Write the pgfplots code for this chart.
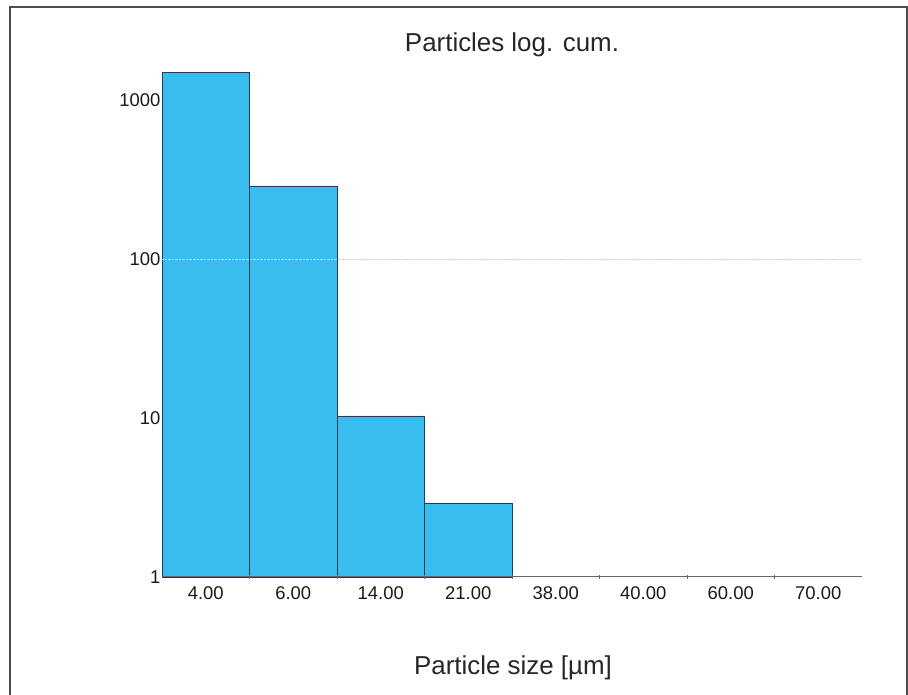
\documentclass[border=0pt]{standalone}
\usepackage{pgfplots}
\pgfplotsset{compat=1.18}
\usepackage{fontspec}
\setmainfont{Liberation Sans}
\definecolor{barblue}{RGB}{56,189,238}
\definecolor{baredge}{RGB}{40,60,85}
\begin{document}
\begin{tikzpicture}[x=1bp,y=1bp]
\useasboundingbox (0,0) rectangle (908,695);
\draw[line width=1.2bp, black!70] (10,0) -- (10,688) -- (907,688) -- (907,0);
\begin{axis}[
  at={(162bp,118bp)}, anchor=south west,
  scale only axis, width=700bp, height=524.9bp,
  ymode=log, ymin=1, ymax=2000,
  xmin=-0.5, xmax=7.5,
  ybar, bar width=1,
  axis on top,
  axis x line*=bottom, axis y line*=left,
  x axis line style={black!60, line width=1bp},
  y axis line style={draw=none},
  xtick={0,...,7},
  xticklabels={4.00,6.00,14.00,21.00,38.00,40.00,60.00,70.00},
  xtick style={draw=none},
  extra x ticks={0.5,1.5,2.5,3.5,4.5,5.5,6.5},
  extra x tick labels={},
  extra x tick style={xtick style={draw=black!60, line width=0.8bp}, major tick length=4bp, tick align=center},
  ytick={1,10,100,1000},
  yticklabels={1,10,100,1000},
  ytick style={draw=none},
  extra y ticks={100},
  extra y tick labels={},
  extra y tick style={grid=major, major grid style={densely dotted, black!18, line width=0.8bp}},
  tick label style={font=\fontsize{18.5}{20}\selectfont, text=black!90},
  /pgf/number format/assume math mode=true,
  xticklabel style={yshift=-2bp},
  yticklabel style={xshift=2bp},
  clip=false,
]
\addplot[fill=barblue, draw=baredge, line width=0.8bp] coordinates {
  (0,1480) (1,288) (2,10.3) (3,2.92)
};
\end{axis}
\node[anchor=base, font=\fontsize{26}{30}\selectfont, text=black!85] at (512,643) {Particles log. cum.};
\node[anchor=base, font=\fontsize{26}{30}\selectfont, text=black!85] at (513,20) {Particle size [µm]};
\end{tikzpicture}
\end{document}
